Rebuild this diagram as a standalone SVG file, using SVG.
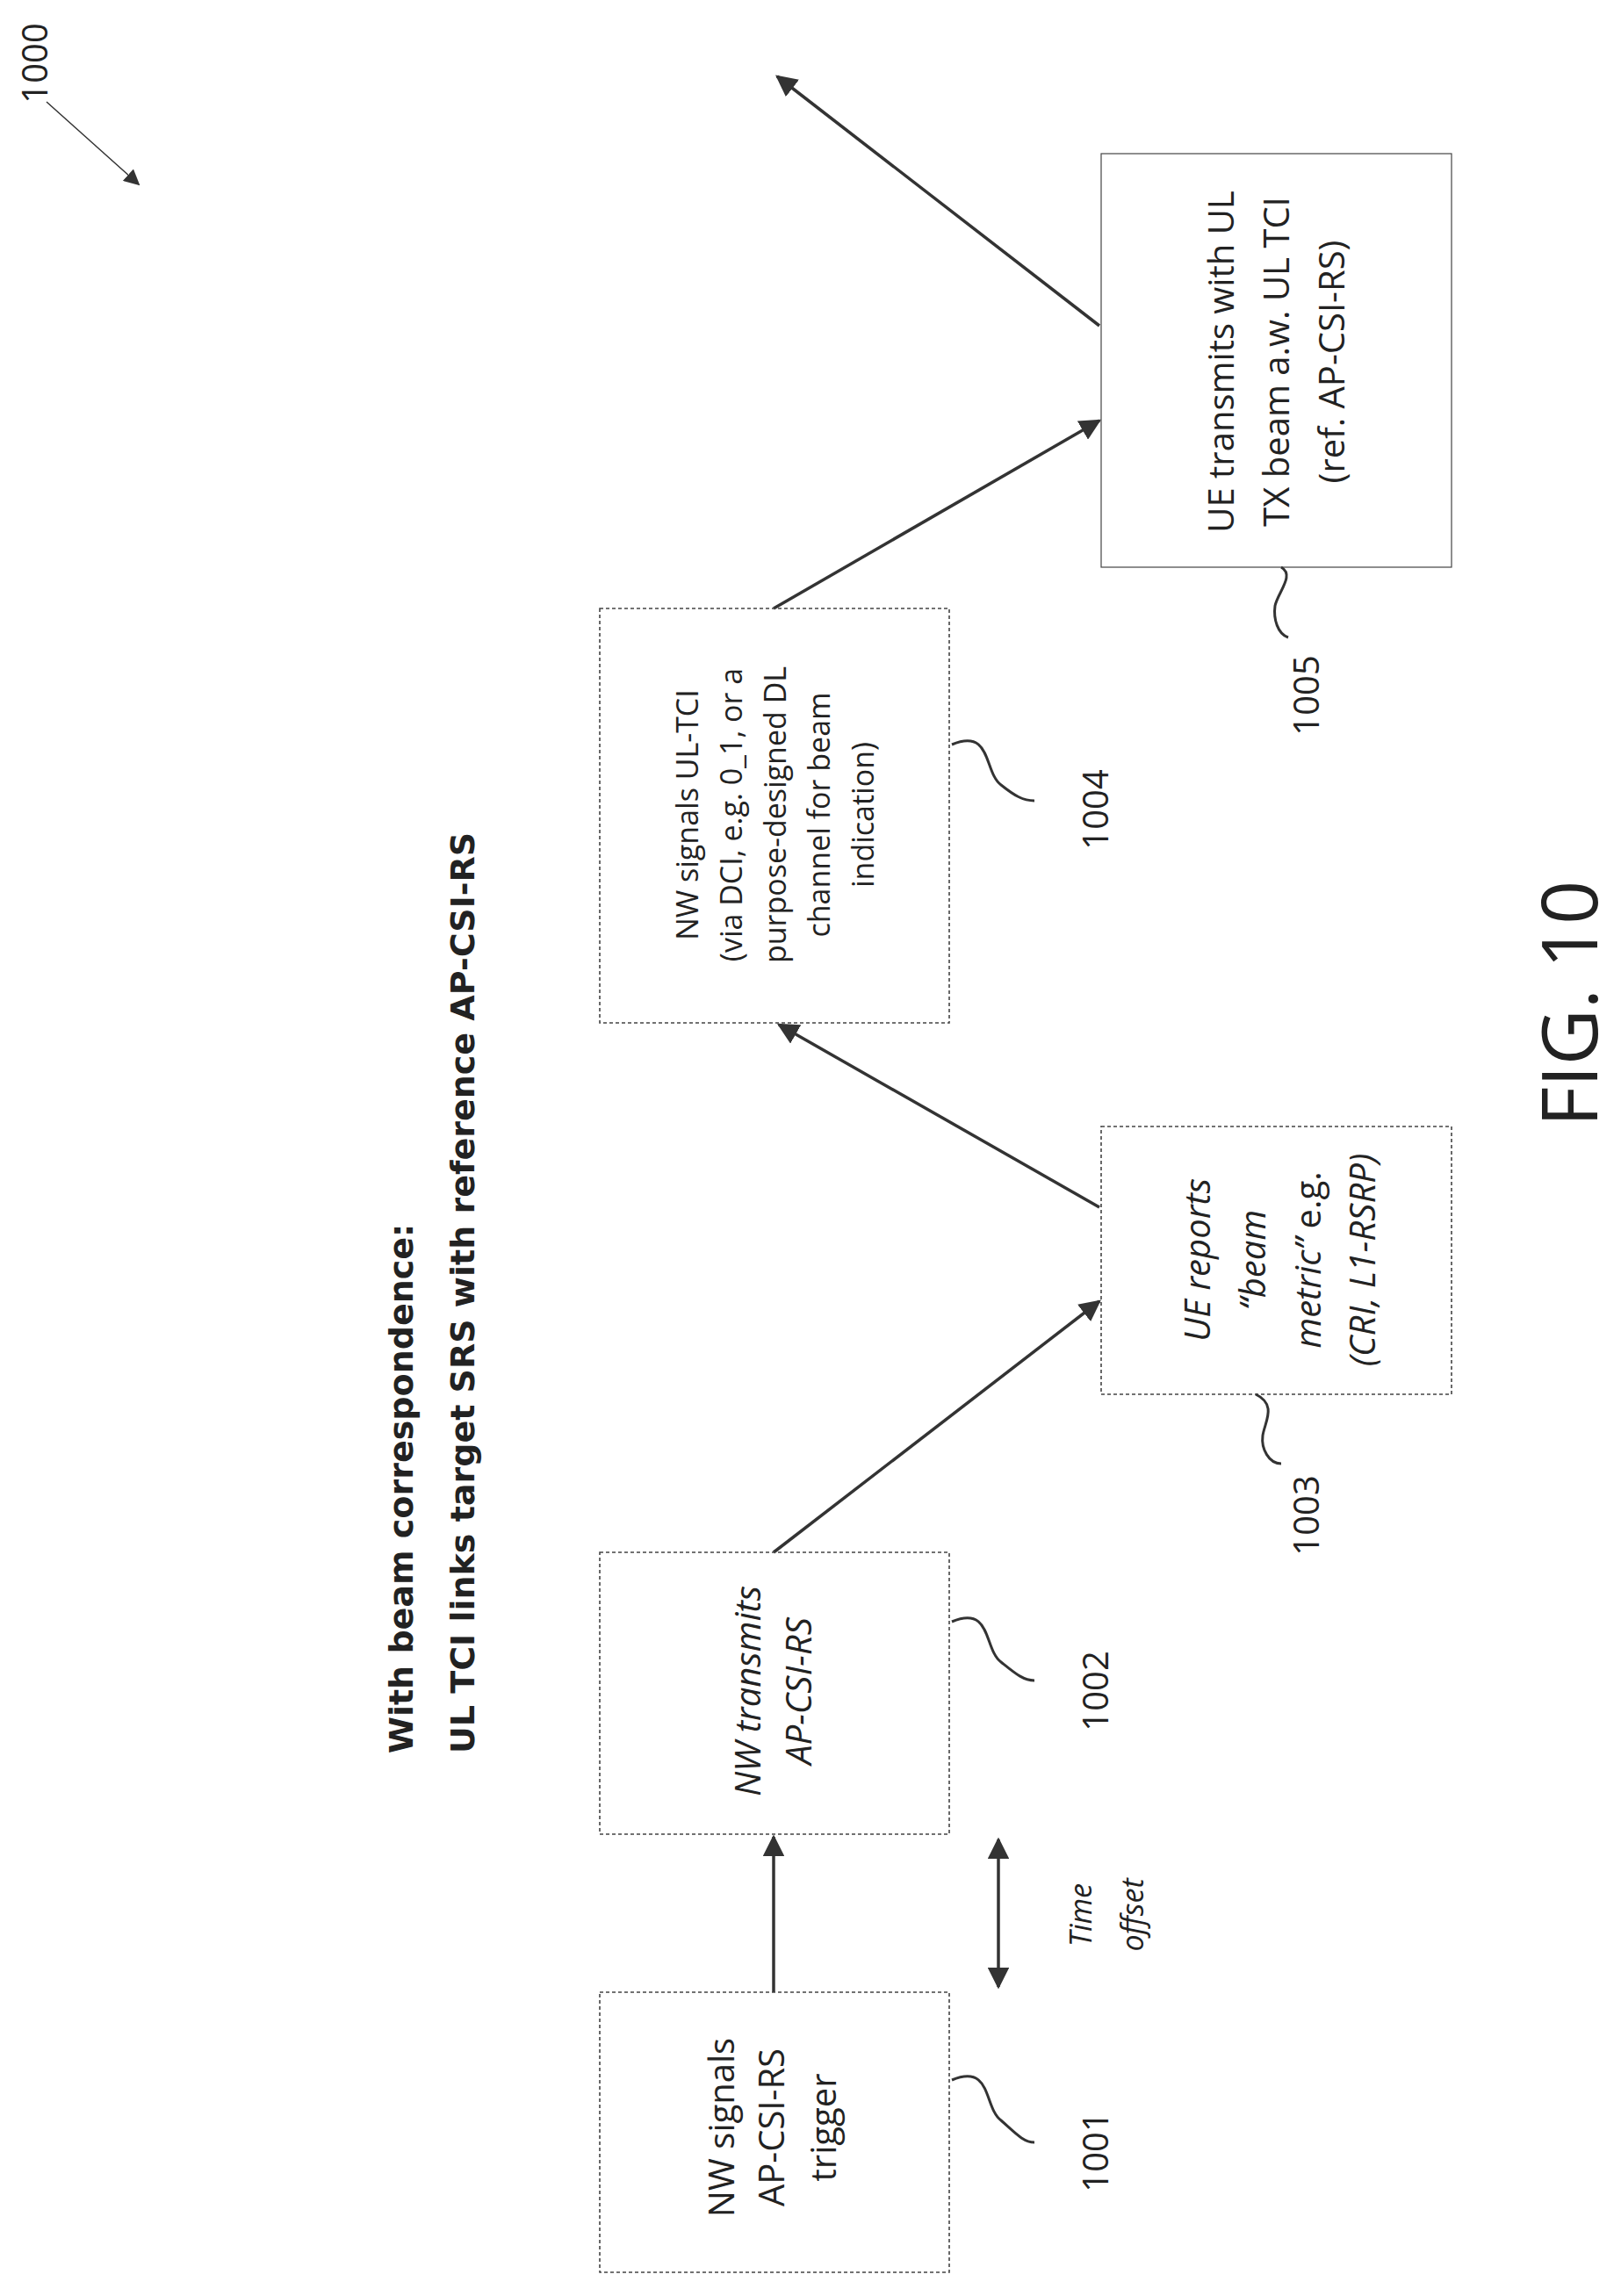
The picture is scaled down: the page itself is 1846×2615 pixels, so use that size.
<svg xmlns="http://www.w3.org/2000/svg" width="1846" height="2615" viewBox="0 0 1846 2615">
<defs>
<marker id="ah" viewBox="0 0 10 10" refX="9" refY="5" markerWidth="7" markerHeight="7" orient="auto-start-reverse" markerUnits="strokeWidth">
<path d="M0,0 L10,5 L0,10 z" fill="#333"/>
</marker>
<marker id="ahs" viewBox="0 0 10 10" refX="9" refY="5" markerWidth="12" markerHeight="12" orient="auto" markerUnits="strokeWidth">
<path d="M0,0 L10,5 L0,10 z" fill="#333"/>
</marker>
<style>
.box{fill:none;stroke:#444;stroke-width:1.6;stroke-dasharray:4 3}
.t{font-family:"Open Sans","Liberation Sans",sans-serif;font-size:40px;fill:#222;text-anchor:middle;dominant-baseline:central}
.s{font-size:34px}
.i{font-style:italic}
.ttl{font-family:"DejaVu Sans","Liberation Sans",sans-serif;font-weight:bold;font-size:38px;fill:#222;dominant-baseline:central}
.c{fill:none;stroke:#333;stroke-width:3.5}
.sq{fill:none;stroke:#333;stroke-width:3}
</style>
</defs>
<rect width="1846" height="2615" fill="#fff"/>
<g id="ref1000">
<text class="t" transform="translate(38,72) rotate(-90)">1000</text>
<line x1="53" y1="116" x2="158" y2="210" stroke="#333" stroke-width="1.5" marker-end="url(#ahs)"/>
</g>
<g id="title">
<text class="ttl" transform="translate(457,1997) rotate(-90)">With beam correspondence:</text>
<text class="ttl" transform="translate(527,1997) rotate(-90)">UL TCI links target SRS with reference AP-CSI-RS</text>
</g>
<g id="connectors">
<line class="c" x1="881" y1="2269" x2="881" y2="2092" marker-end="url(#ah)"/>
<line class="c" x1="881" y1="1768" x2="1252" y2="1482" marker-end="url(#ah)"/>
<line class="c" x1="1252" y1="1375" x2="887" y2="1167" marker-end="url(#ah)"/>
<line class="c" x1="881" y1="693" x2="1252" y2="479" marker-end="url(#ah)"/>
<line class="c" x1="1252" y1="371" x2="885" y2="87" marker-end="url(#ah)"/>
<line class="c" x1="1137" y1="2095" x2="1137" y2="2263" marker-start="url(#ah)" marker-end="url(#ah)"/>
<text class="t i s" transform="translate(1230,2181) rotate(-90)">Time</text>
<text class="t i s" transform="translate(1289,2181) rotate(-90)">offset</text>
</g>
<g id="n1001">
<rect class="box" x="683" y="2269" width="398" height="319"/>
<text class="t" transform="translate(820,2423) rotate(-90)">NW signals</text>
<text class="t" transform="translate(877,2423) rotate(-90)">AP-CSI-RS</text>
<text class="t" transform="translate(936,2423) rotate(-90)">trigger</text>
<path class="sq" d="M1084,2369 C1130,2350 1120,2400 1140,2415 C1155,2428 1165,2440 1178,2440"/>
<text class="t" transform="translate(1246,2451) rotate(-90)">1001</text>
</g>
<g id="n1002">
<rect class="box" x="683" y="1768" width="398" height="321"/>
<text class="t i" transform="translate(850,1926) rotate(-90)">NW transmits</text>
<text class="t i" transform="translate(908,1926) rotate(-90)">AP-CSI-RS</text>
<path class="sq" d="M1084,1847 C1130,1828 1120,1878 1140,1893 C1155,1905 1165,1914 1178,1914"/>
<text class="t" transform="translate(1246,1926) rotate(-90)">1002</text>
</g>
<g id="n1003">
<rect class="box" x="1254" y="1283" width="399" height="305"/>
<text class="t i" transform="translate(1362,1435) rotate(-90)">UE reports</text>
<text class="t i" transform="translate(1425,1435) rotate(-90)">“beam</text>
<text class="t i" transform="translate(1488,1435) rotate(-90)">metric” <tspan font-style="normal">e.g.</tspan></text>
<text class="t i" transform="translate(1550,1435) rotate(-90)">(CRI, L1-RSRP)</text>
<path class="sq" d="M1430,1588 C1455,1600 1440,1620 1438,1635 C1436,1650 1445,1667 1459,1667"/>
<text class="t" transform="translate(1486,1726) rotate(-90)">1003</text>
</g>
<g id="n1004">
<rect class="box" x="683" y="693" width="398" height="472"/>
<text class="t s" transform="translate(782,928) rotate(-90)">NW signals UL-TCI</text>
<text class="t s" transform="translate(832,928) rotate(-90)">(via DCI, e.g. 0_1, or a</text>
<text class="t s" transform="translate(882,928) rotate(-90)">purpose-designed DL</text>
<text class="t s" transform="translate(932,928) rotate(-90)">channel for beam</text>
<text class="t s" transform="translate(982,928) rotate(-90)">indication)</text>
<path class="sq" d="M1084,848 C1130,829 1120,879 1140,894 C1155,906 1165,912 1178,912"/>
<text class="t" transform="translate(1246,922) rotate(-90)">1004</text>
</g>
<g id="n1005">
<rect class="box" x="1254" y="175" width="399" height="471" style="stroke-dasharray:none;stroke-width:1.2"/>
<text class="t" transform="translate(1389,412) rotate(-90)">UE transmits with UL</text>
<text class="t" transform="translate(1452,412) rotate(-90)">TX beam a.w. UL TCI</text>
<text class="t" transform="translate(1515,412) rotate(-90)">(ref. AP-CSI-RS)</text>
<path class="sq" d="M1459,646 C1475,655 1455,675 1452,690 C1450,705 1455,722 1467,726"/>
<text class="t" transform="translate(1486,792) rotate(-90)">1005</text>
</g>
<g id="fig">
<text class="t" style="font-size:88px" transform="translate(1785,1143) rotate(-90)">FIG. 10</text>
</g>
</svg>
